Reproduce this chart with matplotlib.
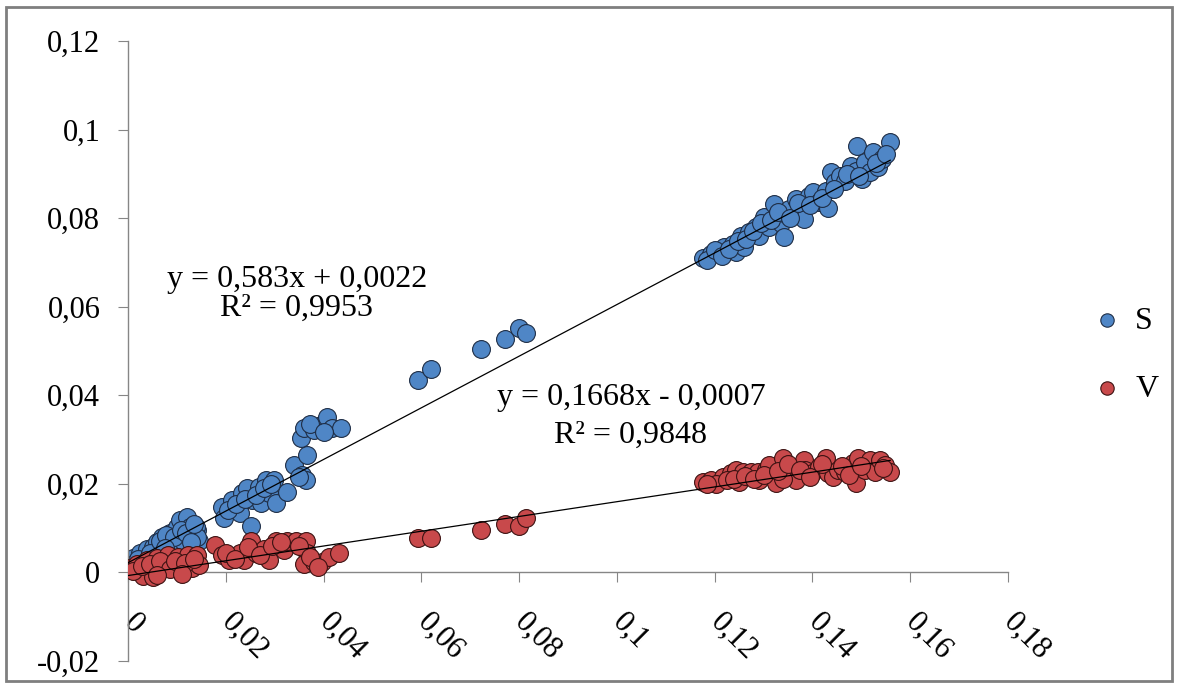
import matplotlib
matplotlib.use("Agg")
import matplotlib.pyplot as plt
from matplotlib.patches import Rectangle
from matplotlib.ticker import FuncFormatter

plt.rcParams['font.family'] = ['Liberation Serif', 'DejaVu Serif']

# serie S (blauw)
S_x = [0.0004, 0.0010, 0.0016, 0.0024, 0.0039, 0.0051, 0.0059, 0.0069, 0.0071, 0.0085,
       0.0091, 0.0100, 0.0106, 0.0112, 0.0120, 0.0126, 0.0130, 0.0142, 0.0146, 0.0140,
       0.0142, 0.0020, 0.0045, 0.0065, 0.0078, 0.0095, 0.0108, 0.0118, 0.0135, 0.0128,
       0.0075,
       0.0193, 0.0197, 0.0213, 0.0228, 0.0234, 0.0244, 0.0252, 0.0254, 0.0268, 0.0272,
       0.0283, 0.0289, 0.0299, 0.0303, 0.0325, 0.0339, 0.0356, 0.0364, 0.0366, 0.0354,
       0.0360, 0.0380, 0.0394, 0.0407, 0.0417, 0.0435, 0.0205, 0.0220, 0.0240, 0.0262,
       0.0278, 0.0292, 0.0350, 0.0372, 0.0400,
       0.0593, 0.0620, 0.0722, 0.0772, 0.0800, 0.0813,
       0.1177, 0.1193, 0.1209, 0.1220, 0.1238, 0.1244, 0.1260, 0.1254, 0.1270, 0.1285,
       0.1291, 0.1301, 0.1311, 0.1321, 0.1325, 0.1335, 0.1341, 0.1346, 0.1352, 0.1366,
       0.1380, 0.1382, 0.1392, 0.1402, 0.1413, 0.1427, 0.1431, 0.1437, 0.1447, 0.1457,
       0.1467, 0.1478, 0.1492, 0.1488, 0.1502, 0.1508, 0.1518, 0.1524, 0.1535, 0.1543,
       0.1559, 0.1185, 0.1200, 0.1215, 0.1230, 0.1248, 0.1265, 0.1278, 0.1295, 0.1315,
       0.1330, 0.1355, 0.1370, 0.1395, 0.1420, 0.1445, 0.1470, 0.1495, 0.1530, 0.1550]
S_y = [0.0016, 0.0032, 0.0023, 0.0043, 0.0054, 0.0057, 0.0068, 0.0079, 0.0061, 0.0088,
       0.0068, 0.0102, 0.0118, 0.0072, 0.0125, 0.0102, 0.0084, 0.0095, 0.0072, 0.0102,
       0.0079, 0.0030, 0.0045, 0.0070, 0.0085, 0.0080, 0.0095, 0.0090, 0.0110, 0.0068,
       0.0055,
       0.0147, 0.0122, 0.0163, 0.0134, 0.0179, 0.0190, 0.0106, 0.0163, 0.0193, 0.0156,
       0.0208, 0.0179, 0.0208, 0.0156, 0.0181, 0.0242, 0.0220, 0.0208, 0.0265, 0.0304,
       0.0326, 0.0322, 0.0333, 0.0351, 0.0326, 0.0326, 0.0140, 0.0155, 0.0165, 0.0175,
       0.0190, 0.0200, 0.0215, 0.0335, 0.0318,
       0.0434, 0.0459, 0.0505, 0.0528, 0.0553, 0.0540,
       0.0711, 0.0718, 0.0723, 0.0734, 0.0741, 0.0723, 0.0736, 0.0759, 0.0768, 0.0781,
       0.0759, 0.0802, 0.0781, 0.0831, 0.0804, 0.0790, 0.0757, 0.0809, 0.0820, 0.0843,
       0.0827, 0.0797, 0.0849, 0.0858, 0.0836, 0.0861, 0.0824, 0.0904, 0.0881, 0.0895,
       0.0883, 0.0917, 0.0963, 0.0906, 0.0888, 0.0926, 0.0904, 0.0949, 0.0915, 0.0933,
       0.0972, 0.0705, 0.0728, 0.0715, 0.0730, 0.0748, 0.0752, 0.0770, 0.0790, 0.0795,
       0.0815, 0.0800, 0.0835, 0.0830, 0.0845, 0.0865, 0.0900, 0.0895, 0.0925, 0.0945]

# serie V (rood)
V_x = [0.0004, 0.0018, 0.0024, 0.0030, 0.0039, 0.0049, 0.0051, 0.0059, 0.0071, 0.0081,
       0.0091, 0.0102, 0.0112, 0.0122, 0.0130, 0.0142, 0.0146, 0.0010, 0.0028, 0.0045,
       0.0065, 0.0085, 0.0097, 0.0117, 0.0135, 0.0060, 0.0110,
       0.0177, 0.0193, 0.0207, 0.0228, 0.0238, 0.0252, 0.0262, 0.0278, 0.0289, 0.0303,
       0.0319, 0.0325, 0.0343, 0.0364, 0.0366, 0.0360, 0.0380, 0.0396, 0.0411, 0.0431,
       0.0200, 0.0218, 0.0245, 0.0270, 0.0295, 0.0312, 0.0350, 0.0372, 0.0388,
       0.0593, 0.0620, 0.0722, 0.0772, 0.0800, 0.0813,
       0.1177, 0.1193, 0.1217, 0.1234, 0.1244, 0.1258, 0.1274, 0.1289, 0.1305, 0.1311,
       0.1319, 0.1325, 0.1339, 0.1346, 0.1360, 0.1366, 0.1382, 0.1384, 0.1400, 0.1413,
       0.1427, 0.1431, 0.1441, 0.1453, 0.1467, 0.1482, 0.1488, 0.1494, 0.1508, 0.1518,
       0.1528, 0.1539, 0.1549, 0.1559, 0.1203, 0.1250, 0.1290, 0.1340, 0.1185, 0.1225,
       0.1240, 0.1262, 0.1280, 0.1300, 0.1330, 0.1350, 0.1375, 0.1395, 0.1420, 0.1460,
       0.1475, 0.1500, 0.1545]
V_y = [0.0009, 0.0020, 0.0000, -0.0007, 0.0027, 0.0009, -0.0011, 0.0032, 0.0011, 0.0039,
       0.0016, 0.0034, 0.0005, 0.0039, 0.0011, 0.0039, 0.0016, 0.0003, 0.0015, 0.0020,
       0.0025, 0.0008, 0.0025, 0.0022, 0.0030, -0.0005, -0.0003,
       0.0061, 0.0039, 0.0027, 0.0045, 0.0027, 0.0072, 0.0043, 0.0054, 0.0027, 0.0072,
       0.0050, 0.0072, 0.0072, 0.0072, 0.0043, 0.0020, 0.0023, 0.0023, 0.0034, 0.0045,
       0.0045, 0.0030, 0.0058, 0.0040, 0.0060, 0.0068, 0.0060, 0.0035, 0.0012,
       0.0077, 0.0077, 0.0095, 0.0110, 0.0106, 0.0122,
       0.0204, 0.0208, 0.0215, 0.0224, 0.0231, 0.0227, 0.0227, 0.0227, 0.0231, 0.0242,
       0.0215, 0.0202, 0.0258, 0.0236, 0.0224, 0.0208, 0.0254, 0.0231, 0.0224, 0.0238,
       0.0258, 0.0224, 0.0215, 0.0231, 0.0227, 0.0247, 0.0202, 0.0258, 0.0231, 0.0254,
       0.0227, 0.0254, 0.0242, 0.0227, 0.0200, 0.0205, 0.0208, 0.0210, 0.0200, 0.0208,
       0.0212, 0.0218, 0.0212, 0.0220, 0.0228, 0.0245, 0.0232, 0.0215, 0.0245, 0.0240,
       0.0220, 0.0240, 0.0235]

# trendlijnen (uit de grafiek)
S_a, S_b = 0.583, 0.0022
V_a, V_b = 0.1668, -0.0007
S_eq = ["y = 0,583x + 0,0022", "R\u00b2 = 0,9953"]
V_eq = ["y = 0,1668x - 0,0007", "R\u00b2 = 0,9848"]

x_ticks = [0, 0.02, 0.04, 0.06, 0.08, 0.1, 0.12, 0.14, 0.16, 0.18]
y_ticks = [-0.02, 0, 0.02, 0.04, 0.06, 0.08, 0.1, 0.12]

blauw = '#4F86C6'
rood = '#C8494B'
grijs = '#868686'


def komma(v, pos):
    return ('%g' % round(v, 4)).replace('.', ',')


fig = plt.figure(figsize=(11.79, 6.86), dpi=100)
ax = fig.add_axes([0.1086, 0.0364, 0.7464, 0.9038])

ax.scatter(S_x, S_y, s=165, c=blauw, edgecolors='#1E2D45', linewidths=0.8, zorder=2, label='S')
ax.scatter(V_x, V_y, s=165, c=rood, edgecolors='#3C1212', linewidths=0.8, zorder=3, label='V')

xs = [0, max(S_x)]
ax.plot(xs, [S_a * x + S_b for x in xs], color='black', lw=0.9, zorder=4)
xv = [0, max(V_x)]
ax.plot(xv, [V_a * x + V_b for x in xv], color='black', lw=0.9, zorder=4)

ax.set_xlim(0, 0.18)
ax.set_ylim(-0.02, 0.12)
ax.set_xticks(x_ticks)
ax.set_yticks(y_ticks)
ax.xaxis.set_major_formatter(FuncFormatter(komma))
ax.yaxis.set_major_formatter(FuncFormatter(komma))

ax.spines['top'].set_visible(False)
ax.spines['right'].set_visible(False)
ax.spines['bottom'].set_position(('data', 0))
for sp in ['left', 'bottom']:
    ax.spines[sp].set_color(grijs)
    ax.spines[sp].set_linewidth(1.0)

ax.tick_params(axis='y', direction='out', length=7, color=grijs, labelsize=22, pad=13)
ax.tick_params(axis='x', direction='out', length=7, color=grijs, labelsize=22, pad=26)
for lbl in ax.get_xticklabels():
    lbl.set_rotation(-45)
    lbl.set_rotation_mode('anchor')
    lbl.set_ha('left')
    lbl.set_va('center')

# vergelijkingen
fig.text(297 / 1179, 1 - 287 / 686, S_eq[0], ha='center', va='baseline', fontsize=23)
fig.text(296 / 1179, 1 - 316 / 686, S_eq[1], ha='center', va='baseline', fontsize=23)
fig.text(631 / 1179, 1 - 405 / 686, V_eq[0], ha='center', va='baseline', fontsize=23)
fig.text(630 / 1179, 1 - 443 / 686, V_eq[1], ha='center', va='baseline', fontsize=23)

ax.legend(loc='center left', bbox_to_anchor=(0.925, 1 - 355 / 686), bbox_transform=fig.transFigure,
          frameon=False, fontsize=23, handlelength=1.0, handletextpad=0.4, borderpad=0,
          borderaxespad=0, labelspacing=1.2, markerscale=0.75)

# rand om de grafiek
fig.patches.append(Rectangle((0.005, 0.008), 0.989, 0.982, transform=fig.transFigure,
                             fill=False, edgecolor='#7F7F7F', lw=2))

fig.savefig('out.png', dpi=100)
